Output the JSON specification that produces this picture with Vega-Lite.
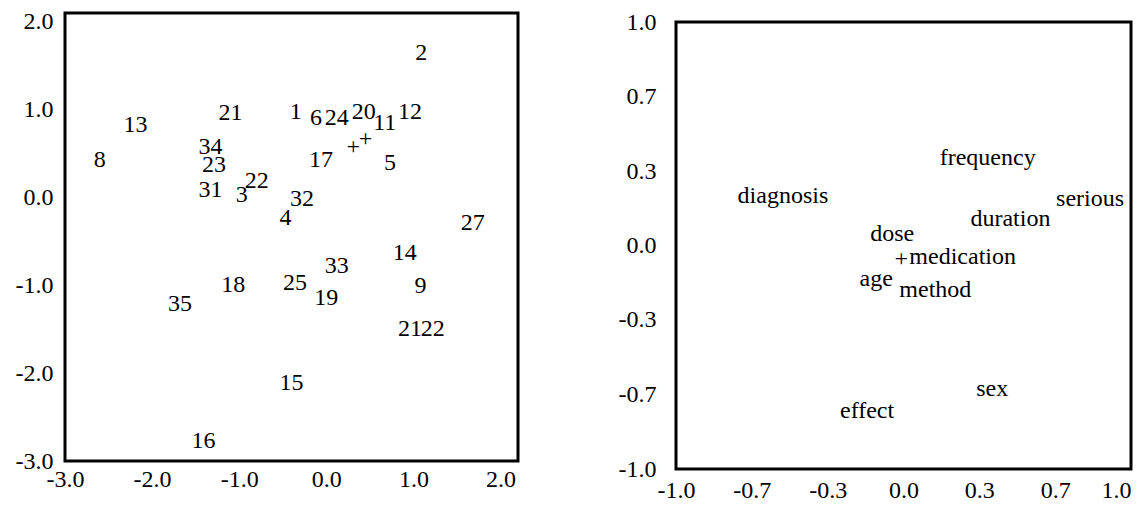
{
  "$schema": "https://vega.github.io/schema/vega-lite/v6.json",
  "background": "white",
  "padding": {"left": 13, "top": 8, "right": 0, "bottom": 0},
  "spacing": 96,
  "config": {
    "view": {"stroke": "black", "strokeWidth": 3},
    "axis": {
      "domain": false,
      "ticks": false,
      "grid": false,
      "labelFont": "Liberation Serif",
      "labelFontSize": 24,
      "labelColor": "black",
      "labelOverlap": false,
      "labelFlush": false,
      "labelExpr": "replace(format(datum.value, '.1f'), '\u2212', '-')",
      "title": null
    },
    "text": {"font": "Liberation Serif", "fontSize": 24, "color": "black", "align": "center", "baseline": "middle"}
  },
  "hconcat": [
    {
      "width": 453,
      "height": 448,
      "data": {
        "values": [
          {"label": "2", "x": 1.09, "y": 1.64},
          {"label": "21", "x": -1.10, "y": 0.96},
          {"label": "13", "x": -2.19, "y": 0.82},
          {"label": "8", "x": -2.60, "y": 0.43},
          {"label": "1", "x": -0.35, "y": 0.97},
          {"label": "6", "x": -0.12, "y": 0.90},
          {"label": "24", "x": 0.12, "y": 0.90},
          {"label": "20", "x": 0.43, "y": 0.97},
          {"label": "11", "x": 0.67, "y": 0.85},
          {"label": "12", "x": 0.96, "y": 0.97},
          {"label": "+", "x": 0.31, "y": 0.57},
          {"label": "+", "x": 0.45, "y": 0.66},
          {"label": "34", "x": -1.33, "y": 0.58},
          {"label": "23", "x": -1.29, "y": 0.37},
          {"label": "17", "x": -0.06, "y": 0.43},
          {"label": "5", "x": 0.73, "y": 0.39},
          {"label": "31", "x": -1.33, "y": 0.09},
          {"label": "3", "x": -0.97, "y": 0.03},
          {"label": "22", "x": -0.80, "y": 0.19},
          {"label": "32", "x": -0.28, "y": -0.02},
          {"label": "4", "x": -0.47, "y": -0.23},
          {"label": "27", "x": 1.68, "y": -0.29},
          {"label": "14", "x": 0.90, "y": -0.63},
          {"label": "33", "x": 0.12, "y": -0.78},
          {"label": "18", "x": -1.07, "y": -1.00},
          {"label": "25", "x": -0.36, "y": -0.97},
          {"label": "9", "x": 1.08, "y": -1.01},
          {"label": "19", "x": 0.00, "y": -1.14},
          {"label": "35", "x": -1.68, "y": -1.21},
          {"label": "21", "x": 0.96, "y": -1.50},
          {"label": "22", "x": 1.22, "y": -1.50},
          {"label": "15", "x": -0.40, "y": -2.11},
          {"label": "16", "x": -1.41, "y": -2.77}
        ]
      },
      "mark": {"type": "text"},
      "encoding": {
        "x": {
          "field": "x",
          "type": "quantitative",
          "scale": {"domain": [-3, 2.2], "nice": false, "zero": false},
          "axis": {"values": [-3, -2, -1, 0, 1, 2], "labelPadding": 6}
        },
        "y": {
          "field": "y",
          "type": "quantitative",
          "scale": {"domain": [-3, 2.1], "nice": false, "zero": false},
          "axis": {"values": [-3, -2, -1, 0, 1, 2], "labelPadding": 12}
        },
        "text": {"field": "label"}
      }
    },
    {
      "spacing": -6,
      "vconcat": [
        {
          "width": 455,
          "height": 1,
          "view": {"stroke": null},
          "data": {"values": []},
          "mark": {"type": "text"},
          "encoding": {}
        },
        {
          "width": 455,
          "height": 447,
          "data": {
            "values": [
              {"label": "frequency", "x": 0.37, "y": 0.39},
              {"label": "diagnosis", "x": -0.53, "y": 0.22},
              {"label": "serious", "x": 0.82, "y": 0.21},
              {"label": "duration", "x": 0.47, "y": 0.12},
              {"label": "dose", "x": -0.05, "y": 0.05},
              {"label": "+", "x": -0.01, "y": -0.06},
              {"label": "medication", "x": 0.26, "y": -0.05},
              {"label": "age", "x": -0.12, "y": -0.15},
              {"label": "method", "x": 0.14, "y": -0.20},
              {"label": "sex", "x": 0.39, "y": -0.64},
              {"label": "effect", "x": -0.16, "y": -0.74}
            ]
          },
          "mark": {"type": "text"},
          "encoding": {
            "x": {
              "field": "x",
              "type": "quantitative",
              "scale": {"domain": [-1, 1], "nice": false, "zero": false},
              "axis": {
                "values": [-1, -0.6667, -0.3333, 0, 0.3333, 0.6667, 1],
                "labelPadding": 9,
                "labelAlign": {"condition": {"test": "datum.value > 0.9", "value": "right"}, "value": "center"}
              }
            },
            "y": {
              "field": "y",
              "type": "quantitative",
              "scale": {"domain": [-1, 1], "nice": false, "zero": false},
              "axis": {"values": [-1, -0.6667, -0.3333, 0, 0.3333, 0.6667, 1], "labelPadding": 20}
            },
            "text": {"field": "label"}
          }
        }
      ]
    }
  ]
}
